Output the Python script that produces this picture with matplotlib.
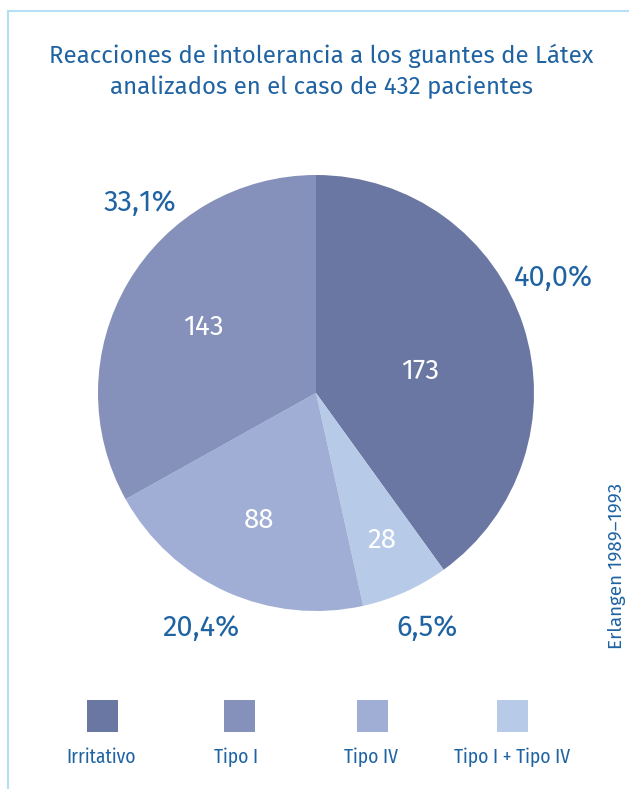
import matplotlib
matplotlib.use("Agg")
import matplotlib.pyplot as plt
import numpy as np

categories = ["Irritativo", "Tipo I + Tipo IV", "Tipo IV", "Tipo I"]
counts = [173, 28, 88, 143]
legend_order = ["Irritativo", "Tipo I", "Tipo IV", "Tipo I + Tipo IV"]
colors = {"Irritativo": "#6b77a3", "Tipo I": "#8591bb", "Tipo IV": "#a0aed5", "Tipo I + Tipo IV": "#b7cbe8"}
title_lines = ["Reacciones de intolerancia a los guantes de Látex", "analizados en el caso de 432 pacientes"]
side_note = "Erlangen 1989–1993"

COND = ["Fira Sans Condensed", "DejaVu Sans"]
NORM = ["Fira Sans", "DejaVu Sans"]
plt.rcParams['font.family'] = COND
TXT = "#1f63a3"

W, H = 629, 789
fig = plt.figure(figsize=(W/100, H/100), dpi=100)
fig.patch.set_facecolor("white")

# frame lines
fl = fig.add_axes([0, 0, 1, 1])
fl.set_xlim(0, W); fl.set_ylim(H, 0); fl.axis("off")
fl.plot([8, 8], [H, 11], color="#b5dff5", lw=1.5)
fl.plot([8, W], [11, 11], color="#b5dff5", lw=1.5)

# title
fl.text(321, 63, title_lines[0], ha="center", va="baseline", fontsize=17.3, color=TXT, family=NORM)
fl.text(321, 94, title_lines[1], ha="center", va="baseline", fontsize=17.3, color=TXT, family=NORM)
fl.text(617, 566, side_note, ha="center", va="center", rotation=90, fontsize=13.5, color=TXT, family=NORM)

# pie
cx, cy, r = 316, 393, 218
ax = fig.add_axes([(cx - r)/W, 1 - (cy + r)/H, 2*r/W, 2*r/H])
wedges, _ = ax.pie(counts, colors=[colors[c] for c in categories], startangle=90,
                   counterclock=False, radius=1,
                   wedgeprops=dict(linewidth=0, edgecolor="none"))
ax.set_xlim(-1, 1); ax.set_ylim(-1, 1); ax.set_aspect("equal"); ax.axis("off")

total = sum(counts)
inner_r = [0.49, 0.74, 0.64, 0.60]
inner_shift = [-6, 0, 0, 0]
pct_pos = [(25.9, 1.21), (295.4, 1.19), (243.8, 1.2), (132.8, 1.19)]
for w, n, ir, sh, (pa, pr) in zip(wedges, counts, inner_r, inner_shift, pct_pos):
    mid = np.deg2rad((w.theta1 + w.theta2) / 2 + sh)
    ax.text(ir*np.cos(mid), ir*np.sin(mid), str(n), ha="center", va="center",
            color="white", fontsize=20, family=NORM)
    pct = f"{100*n/total:.1f}".replace(".", ",") + "%"
    a = np.deg2rad(pa)
    ax.text(pr*np.cos(a), pr*np.sin(a), pct, ha="center", va="center",
            color=TXT, fontsize=21, clip_on=False, family=NORM)

# legend
sq_x = [102, 239.5, 372.5, 512.5]
lab_x = [101.5, 236.5, 371.5, 512]
for sx, tx, name in zip(sq_x, lab_x, legend_order):
    fl.add_patch(plt.Rectangle((sx - 15.5, 700), 31, 32, color=colors[name], lw=0))
    fl.text(tx, 763, name, ha="center", va="baseline", fontsize=14, color=TXT)

fig.savefig("out.png", dpi=100)
